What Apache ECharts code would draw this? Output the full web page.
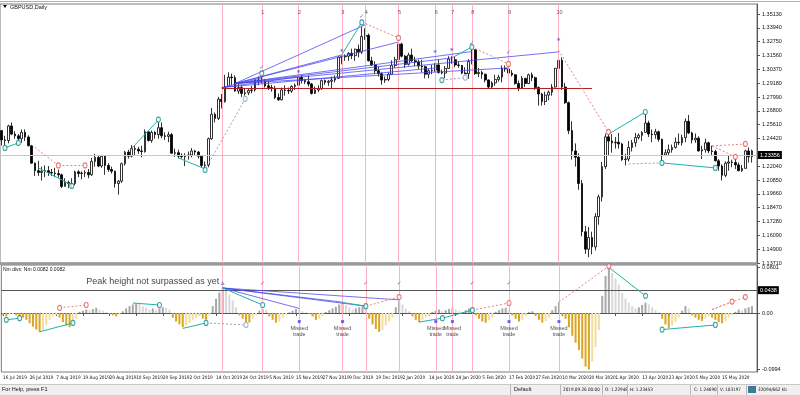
<!DOCTYPE html>
<html><head><meta charset="utf-8">
<script src="https://cdn.jsdelivr.net/npm/echarts@6/dist/echarts.min.js"></script>
<style>html,body{margin:0;padding:0;background:#fff;overflow:hidden}#c{width:800px;height:395px}</style>
</head><body><div id="c"></div>
<script>
// ---------- DATA ----------
const monthDays = [
 ['Jul 2019',[16,17,18,19,22,23,24,25,26,29,30,31]],
 ['Aug 2019',[1,2,5,6,7,8,9,12,13,14,15,16,19,20,21,22,23,26,27,28,29,30]],
 ['Sep 2019',[2,3,4,5,6,9,10,11,12,13,16,17,18,19,20,23,24,25,26,27,30]],
 ['Oct 2019',[1,2,3,4,7,8,9,10,11,14,15,16,17,18,21,22,23,24,25,28,29,30,31]],
 ['Nov 2019',[1,4,5,6,7,8,11,12,13,14,15,18,19,20,21,22,25,26,27,28,29]],
 ['Dec 2019',[2,3,4,5,6,9,10,11,12,13,16,17,18,19,20,23,24,26,27,30,31]],
 ['Jan 2020',[2,3,6,7,8,9,10,13,14,15,16,17,20,21,22,23,24,27,28,29,30,31]],
 ['Feb 2020',[3,4,5,6,7,10,11,12,13,14,17,18,19,20,21,24,25,26,27,28]],
 ['Mar 2020',[2,3,4,5,6,9,10,11,12,13,16,17,18,19,20,23,24,25,26,27,30,31]],
 ['Apr 2020',[1,2,3,6,7,8,9,10,13,14,15,16,17,20,21,22,23,24,27,28,29,30]],
 ['May 2020',[1,4,5,6,7,8,11,12,13,14,15,18,19,20,21,22,25,26,27,28]]
];
const dateTickLabels = ['16 Jul 2019','26 Jul 2019','7 Aug 2019','19 Aug 2019','29 Aug 2019','10 Sep 2019','20 Sep 2019','2 Oct 2019','14 Oct 2019','24 Oct 2019','5 Nov 2019','15 Nov 2019','27 Nov 2019','9 Dec 2019','19 Dec 2019','2 Jan 2020','14 Jan 2020','24 Jan 2020','5 Feb 2020','17 Feb 2020','27 Feb 2020','10 Mar 2020','20 Mar 2020','1 Apr 2020','13 Apr 2020','23 Apr 2020','5 May 2020','15 May 2020','27 May 2020'];
const priceTicks = [1.35130,1.33940,1.32750,1.31560,1.30370,1.29180,1.27990,1.26800,1.25610,1.24420,1.22040,1.20850,1.19660,1.18470,1.17280,1.16090,1.14900,1.13710];
const oscTicks = [0.0801, 0, -0.0994];
const currentPrice = 1.23356;
const peakLevel = 0.0438;
const supportLevel = 1.2875;

const opens = [1.2510,1.2430,1.2425,1.2550,1.2480,1.2465,1.2440,1.2495,1.2455,1.2380,1.2230,1.2165,1.2150,1.2160,1.2165,1.2150,1.2145,1.2140,1.2130,1.2030,1.2065,1.2055,1.2055,1.2155,1.2140,1.2145,1.2150,1.2130,1.2245,1.2280,1.2205,1.2290,1.2210,1.2175,1.2160,1.2055,1.2075,1.2225,1.2325,1.2290,1.2355,1.2350,1.2335,1.2330,1.2500,1.2425,1.2495,1.2475,1.2535,1.2465,1.2460,1.2475,1.2315,1.2320,1.2290,1.2285,1.2295,1.2300,1.2335,1.2325,1.2290,1.2210,1.2215,1.2440,1.2650,1.2615,1.2780,1.2760,1.2890,1.2970,1.2965,1.2850,1.2880,1.2830,1.2835,1.2855,1.2860,1.2945,1.2940,1.2935,1.2895,1.2880,1.2875,1.2795,1.2775,1.2860,1.2855,1.2850,1.2890,1.2900,1.2970,1.2940,1.2930,1.2910,1.2830,1.2860,1.2870,1.2940,1.2925,1.2935,1.2945,1.2960,1.3140,1.3145,1.3150,1.3175,1.3155,1.3210,1.3185,1.3320,1.3330,1.3110,1.3075,1.3025,1.3000,1.2945,1.2950,1.2995,1.3070,1.3120,1.3255,1.3150,1.3080,1.3160,1.3110,1.3100,1.3065,1.3060,1.2995,1.3025,1.3030,1.3075,1.3010,1.3005,1.3045,1.3125,1.3120,1.3075,1.3070,1.3005,1.3000,1.3105,1.3205,1.3000,1.3010,1.2995,1.2945,1.2885,1.2920,1.2950,1.2970,1.3045,1.3040,1.3005,1.2990,1.2915,1.2875,1.2960,1.2915,1.2990,1.2965,1.2880,1.2825,1.2760,1.2815,1.2840,1.2885,1.3045,1.3115,1.2885,1.2750,1.2510,1.2335,1.2280,1.2055,1.1640,1.1490,1.1590,1.1510,1.1770,1.1940,1.2200,1.2456,1.2420,1.2405,1.2410,1.2395,1.2260,1.2265,1.2365,1.2405,1.2450,1.2470,1.2495,1.2575,1.2480,1.2475,1.2500,1.2435,1.2300,1.2320,1.2345,1.2365,1.2410,1.2405,1.2450,1.2590,1.2490,1.2430,1.2445,1.2335,1.2345,1.2405,1.2335,1.2330,1.2250,1.2205,1.2125,1.2230,1.2240,1.2235,1.2215,1.2165,1.2185,1.2335,1.2285];
const highs = [1.2515,1.2465,1.2560,1.2580,1.2505,1.2480,1.2520,1.2520,1.2470,1.2385,1.2235,1.2250,1.2200,1.2210,1.2205,1.2180,1.2190,1.2175,1.2140,1.2100,1.2080,1.2100,1.2165,1.2170,1.2160,1.2170,1.2180,1.2275,1.2310,1.2295,1.2300,1.2300,1.2230,1.2200,1.2165,1.2085,1.2235,1.2335,1.2345,1.2385,1.2385,1.2370,1.2380,1.2520,1.2500,1.2510,1.2505,1.2580,1.2580,1.2495,1.2500,1.2490,1.2355,1.2345,1.2315,1.2315,1.2330,1.2360,1.2345,1.2335,1.2295,1.2245,1.2450,1.2705,1.2665,1.2800,1.2825,1.2990,1.3012,1.3000,1.2985,1.2925,1.2900,1.2870,1.2875,1.2895,1.2950,1.2975,1.2975,1.2955,1.2940,1.2905,1.2895,1.2830,1.2880,1.2900,1.2880,1.2900,1.2915,1.2985,1.2985,1.2955,1.2985,1.2920,1.2890,1.2900,1.2950,1.2950,1.2945,1.2975,1.2985,1.3150,1.3155,1.3165,1.3185,1.3215,1.3215,1.3250,1.3400,1.3390,1.3345,1.3145,1.3105,1.3060,1.3010,1.2975,1.3010,1.3115,1.3145,1.3285,1.3265,1.3160,1.3180,1.3215,1.3145,1.3120,1.3120,1.3070,1.3040,1.3075,1.3090,1.3120,1.3035,1.3065,1.3150,1.3150,1.3145,1.3105,1.3075,1.3055,1.3125,1.3210,1.3210,1.3050,1.3025,1.3000,1.2950,1.2935,1.2990,1.2990,1.3070,1.3070,1.3045,1.3030,1.2995,1.2940,1.2980,1.2960,1.3000,1.3010,1.2975,1.2890,1.2835,1.2845,1.2855,1.2910,1.3050,1.3200,1.3140,1.2920,1.2760,1.2590,1.2400,1.2315,1.2085,1.1690,1.1680,1.1640,1.1800,1.1960,1.2240,1.2485,1.2480,1.2480,1.2455,1.2490,1.2405,1.2310,1.2420,1.2430,1.2490,1.2485,1.2505,1.2650,1.2595,1.2520,1.2525,1.2510,1.2440,1.2350,1.2390,1.2390,1.2450,1.2485,1.2475,1.2615,1.2645,1.2500,1.2485,1.2460,1.2380,1.2440,1.2415,1.2380,1.2345,1.2265,1.2220,1.2245,1.2295,1.2260,1.2275,1.2235,1.2215,1.2345,1.2365,1.2346];
const lows = [1.2382,1.2383,1.2400,1.2470,1.2440,1.2420,1.2405,1.2420,1.2375,1.2225,1.2120,1.2120,1.2080,1.2110,1.2120,1.2120,1.2110,1.2105,1.2015,1.2030,1.2015,1.2020,1.2040,1.2110,1.2090,1.2110,1.2100,1.2120,1.2200,1.2195,1.2190,1.2130,1.2155,1.2140,1.2020,1.1958,1.2060,1.2210,1.2270,1.2280,1.2300,1.2310,1.2280,1.2320,1.2415,1.2405,1.2440,1.2440,1.2445,1.2430,1.2410,1.2315,1.2285,1.2270,1.2270,1.2205,1.2260,1.2280,1.2300,1.2270,1.2195,1.2190,1.2195,1.2430,1.2580,1.2600,1.2700,1.2750,1.2885,1.2900,1.2845,1.2825,1.2800,1.2810,1.2815,1.2830,1.2845,1.2900,1.2915,1.2880,1.2860,1.2845,1.2780,1.2765,1.2770,1.2810,1.2825,1.2835,1.2860,1.2880,1.2915,1.2910,1.2890,1.2820,1.2825,1.2840,1.2860,1.2905,1.2895,1.2875,1.2925,1.2955,1.3080,1.3110,1.3110,1.3125,1.3110,1.3140,1.3170,1.3290,1.3105,1.3065,1.2995,1.2975,1.2905,1.2920,1.2935,1.2990,1.3050,1.3115,1.3140,1.3050,1.3070,1.3100,1.3065,1.3040,1.3010,1.2960,1.2960,1.2995,1.3015,1.3000,1.2995,1.2960,1.3040,1.3085,1.3055,1.3050,1.2995,1.2995,1.2955,1.3080,1.2990,1.2970,1.2955,1.2925,1.2870,1.2875,1.2895,1.2930,1.2925,1.3015,1.2990,1.2975,1.2905,1.2850,1.2870,1.2885,1.2910,1.2935,1.2860,1.2725,1.2725,1.2730,1.2770,1.2810,1.2880,1.2990,1.2860,1.2740,1.2480,1.2260,1.2200,1.2000,1.1600,1.1450,1.1420,1.1445,1.1480,1.1700,1.1900,1.2180,1.2300,1.2320,1.2355,1.2355,1.2250,1.2210,1.2245,1.2330,1.2370,1.2435,1.2420,1.2490,1.2455,1.2410,1.2440,1.2415,1.2245,1.2290,1.2300,1.2320,1.2355,1.2385,1.2380,1.2410,1.2480,1.2400,1.2405,1.2330,1.2265,1.2320,1.2315,1.2290,1.2245,1.2165,1.2080,1.2110,1.2165,1.2195,1.2180,1.2160,1.2155,1.2185,1.2235,1.2235];
const closes = [1.2430,1.2425,1.2550,1.2480,1.2465,1.2440,1.2495,1.2455,1.2380,1.2230,1.2165,1.2150,1.2160,1.2165,1.2150,1.2145,1.2140,1.2130,1.2030,1.2065,1.2055,1.2055,1.2155,1.2140,1.2145,1.2150,1.2130,1.2245,1.2280,1.2205,1.2290,1.2210,1.2175,1.2160,1.2055,1.2075,1.2225,1.2325,1.2290,1.2355,1.2350,1.2335,1.2330,1.2500,1.2425,1.2495,1.2475,1.2535,1.2465,1.2460,1.2475,1.2315,1.2320,1.2290,1.2285,1.2295,1.2300,1.2335,1.2325,1.2290,1.2210,1.2215,1.2440,1.2650,1.2615,1.2780,1.2760,1.2890,1.2970,1.2965,1.2850,1.2880,1.2830,1.2835,1.2855,1.2860,1.2945,1.2940,1.2935,1.2895,1.2880,1.2875,1.2795,1.2775,1.2860,1.2855,1.2850,1.2890,1.2900,1.2970,1.2940,1.2930,1.2910,1.2830,1.2860,1.2870,1.2940,1.2925,1.2935,1.2945,1.2960,1.3140,1.3145,1.3150,1.3175,1.3155,1.3210,1.3185,1.3320,1.3330,1.3110,1.3075,1.3025,1.3000,1.2945,1.2950,1.2995,1.3070,1.3120,1.3255,1.3150,1.3080,1.3160,1.3110,1.3100,1.3065,1.3060,1.2995,1.3025,1.3030,1.3075,1.3010,1.3005,1.3045,1.3125,1.3120,1.3075,1.3070,1.3005,1.3000,1.3105,1.3205,1.3000,1.3010,1.2995,1.2945,1.2885,1.2920,1.2950,1.2970,1.3045,1.3040,1.3005,1.2990,1.2915,1.2875,1.2960,1.2915,1.2990,1.2965,1.2880,1.2825,1.2760,1.2815,1.2840,1.2885,1.3045,1.3115,1.2885,1.2750,1.2510,1.2335,1.2280,1.2055,1.1640,1.1490,1.1590,1.1510,1.1770,1.1940,1.2200,1.2456,1.2420,1.2405,1.2410,1.2395,1.2260,1.2265,1.2365,1.2405,1.2450,1.2470,1.2495,1.2575,1.2480,1.2475,1.2500,1.2435,1.2300,1.2320,1.2345,1.2365,1.2410,1.2405,1.2450,1.2590,1.2490,1.2430,1.2445,1.2335,1.2345,1.2405,1.2335,1.2330,1.2250,1.2205,1.2125,1.2230,1.2240,1.2235,1.2215,1.2165,1.2185,1.2335,1.2285,1.23356];

const oscValues = [-0.004,-0.006,-0.003,-0.002,-0.004,-0.005,-0.008,-0.012,-0.018,-0.024,-0.029,-0.033,
 -0.030,-0.022,-0.012,-0.006,-0.003,-0.008,-0.016,-0.022,-0.025,-0.020,-0.010,
 0.002,0.004,0.006,0.005,0.007,0.009,0.006,0.004,0.002,-0.002,-0.004,-0.006,-0.003,0.003,
 0.008,0.012,0.015,0.017,0.016,0.012,0.010,0.006,0.008,0.005,0.008,0.010,0.009,0.006,
 -0.008,-0.015,-0.020,-0.025,-0.022,-0.018,-0.012,-0.008,-0.006,-0.010,-0.012,-0.004,
 0.012,0.025,0.036,0.0438,0.040,0.032,0.022,0.010,-0.004,-0.010,-0.016,-0.017,-0.010,-0.004,
 0.004,0.007,0.005,-0.006,-0.012,-0.017,-0.015,-0.008,-0.003,0.001,0.004,0.007,0.006,0.003,0.001,-0.002,
 -0.006,-0.012,-0.010,-0.006,0.002,0.005,0.008,0.011,0.015,0.018,0.014,0.010,0.006,0.008,0.010,0.012,0.008,
 -0.010,-0.020,-0.028,-0.033,-0.030,-0.022,-0.015,-0.008,0.010,0.021,0.015,0.008,0.003,
 -0.006,-0.012,-0.016,-0.012,-0.008,-0.004,0.002,0.004,0.006,0.003,0.005,0.007,0.008,0.006,0.004,0.002,0.005,0.008,0.010,
 -0.004,-0.010,-0.015,-0.017,-0.013,-0.008,0.002,0.005,0.008,0.009,0.006,
 -0.004,-0.010,-0.015,-0.012,-0.006,0.002,0.003,-0.005,-0.012,-0.017,-0.014,-0.008,0.005,0.012,0.019,
 -0.004,-0.010,-0.025,-0.040,-0.052,-0.065,-0.080,-0.094,-0.099,-0.085,-0.060,-0.030,
 0.030,0.065,0.080,0.070,0.060,0.050,0.035,0.025,0.018,0.012,0.008,0.010,0.014,0.018,0.015,0.010,0.005,0.001,
 -0.010,-0.020,-0.026,-0.022,-0.015,-0.008,0.004,0.012,0.008,-0.004,-0.008,-0.012,-0.014,-0.010,-0.006,-0.008,
 -0.012,-0.016,-0.018,-0.014,-0.008,-0.004,0.002,0.006,0.004,0.008,0.010,0.012];

// vertical signal lines (bar index) and their numbers
const signalBars = [66,78,89,102,109,119,130,135,141,152,167];
const signalNames = ['','1','2','3','4','5','6','7','8','9','10'];
const missedBars = [89,102,130,135,152,167];
// annotations in price units: [barIndex, price]
const tealMarksMain = [[1,1.2361],[5,1.2404],[21,1.2034],[47,1.2605],[61,1.2172],[78,1.3002],[108,1.3440],[132,1.2945],[141,1.3229],[193,1.2670],[198,1.2232],[214,1.2189]];
const redMarksMain = [[17,1.2210],[25,1.2210],[119,1.3307],[152,1.3083],[182,1.2498],[220,1.2284],[223,1.2395]];
const paleMarksMain = [[73,1.2782],[139,1.2965]];
const starsMain = [[89,1.3006],[102,1.3186],[130,1.3178],[135,1.3195],[167,1.3281]];
const checksMain = [[78,1.3049],[108,1.3496],[141,1.3264],[152,1.3186]];
const blueLinesMain = [[70,1.2915,109,1.3420],[70,1.2915,119,1.3272],[70,1.2915,167,1.3187],[70,1.2915,102,1.3161],[70,1.2915,135,1.3135],[70,1.2915,141,1.3190],[66,1.2880,89,1.2972],[66,1.2880,78,1.2963],[70,1.2915,152,1.3049],[66,1.2880,130,1.3049]];
const tealLinesMain = [[1,1.2361,5,1.2404],[11,1.2189,21,1.2043],[39,1.2358,47,1.2600],[53,1.2275,61,1.2180],[102,1.3161,108,1.3444],[135,1.3135,141,1.3229],[182,1.2480,193,1.2670],[198,1.2232,214,1.2189]];
const redDotLinesMain = [[9,1.2386,17,1.2210],[17,1.2210,25,1.2210],[108,1.3444,119,1.3307],[141,1.3229,152,1.3083],[167,1.3200,182,1.2498],[213,1.2378,223,1.2395],[213,1.2378,220,1.2284]];
const greyDotLinesMain = [[61,1.2172,73,1.2782],[132,1.2945,139,1.2965],[188,1.2223,198,1.2232]];
// annotations in oscillator units
const tealMarksOsc = [[1,-0.012],[5,-0.009],[21,-0.0175],[47,0.014],[61,-0.0175],[78,0.014],[109,0.012],[132,-0.009],[141,0.005],[193,0.030],[198,-0.029],[214,-0.021]];
const redMarksOsc = [[17,0.009],[25,0.014],[119,0.028],[152,0.0175],[182,0.082],[219,0.020],[223,0.028]];
const paleMarksOsc = [[73,-0.021]];
const checksOsc = [[78,0.051],[109,0.051],[119,0.051],[141,0.051],[152,0.051]];
const blueLinesOsc = [[66,0.0438,89,0.008],[66,0.0438,109,0.012],[66,0.0438,119,0.023],[66,0.0438,102,0.019]];
const tealLinesOsc = [[1,-0.012,5,-0.009],[11,-0.033,21,-0.0175],[39,0.0175,47,0.014],[54,-0.027,61,-0.0175],[66,0.0438,78,0.014],[102,0.0185,109,0.012],[125,-0.016,132,-0.009],[132,-0.009,141,0.005],[182,0.080,193,0.030],[198,-0.029,214,-0.021]];
const redDotLinesOsc = [[17,0.009,25,0.014],[109,0.012,119,0.028],[141,0.005,152,0.0175],[167,0.019,182,0.082],[213,0.006,223,0.028],[213,0.006,219,0.020]];
const greyDotLinesOsc = [[61,-0.0175,73,-0.021]];

// ---------- BUILD ----------
const categories = [];
monthDays.forEach(([m, ds]) => ds.forEach(d => categories.push(d + ' ' + m)));
categories.push('');
const candleData = opens.map((o, i) => [o, closes[i], lows[i], highs[i]]);
const oscColors = oscValues.map((v, i) => {
  const p = i > 0 ? oscValues[i - 1] : 0;
  if (v >= 0) return v >= p ? '#A8A8A8' : '#D8D8D8';
  return v <= p ? '#DAA520' : '#F0DDA0';
});
const FONT = 'Liberation Sans';
const NARROW = 'Liberation Sans Narrow, DejaVu Sans Condensed, Liberation Sans';
const TEAL = '#20B2AA', TEALM = '#0E8F8F', RED = '#E05A5A', BLUE = '#4646F0', PINK = '#FFB3C1';

function segs(list, color, type, width, opacity) {
  return list.map(s => [{coord: [s[0], s[1]]}, {coord: [s[2], s[3]], lineStyle: {color, type, width, opacity}}]);
}
function lineSeries(list, color, type, width, xi, yi, opacity) {
  return {
    type: 'scatter', xAxisIndex: xi, yAxisIndex: yi, data: [], silent: true, z: 4,
    markLine: {silent: true, symbol: 'none', animation: false, label: {show: false},
      lineStyle: {color, type, width, opacity: opacity || 1}, data: segs(list, color, type, width, opacity || 1)}
  };
}
function markSeries(list, color, fill, xi, yi) {
  return {type: 'scatter', xAxisIndex: xi, yAxisIndex: yi, z: 6, silent: true, symbol: 'circle', symbolSize: [4, 5],
    itemStyle: {color: fill, borderColor: color, borderWidth: 1.1}, data: list};
}
function textSeries(list, text, color, size, xi, yi, bold) {
  return {type: 'scatter', xAxisIndex: xi, yAxisIndex: yi, z: 7, silent: true, symbolSize: 0, data: list,
    label: {show: true, position: 'inside', formatter: text, color, fontSize: size, fontFamily: 'DejaVu Sans', fontWeight: bold ? 'bold' : 'normal'}};
}

const chart = echarts.init(document.getElementById('c'), null, {renderer: 'canvas'});
const vLines = signalBars.map(b => ({xAxis: b}));

const option = {
  animation: false,
  backgroundColor: '#ffffff',
  grid: [
    {left: 0, right: 43, top: 4, height: 259, show: true, borderColor: '#7a7a7a', borderWidth: 1},
    {left: 0, right: 43, top: 265, height: 107, show: true, borderColor: '#7a7a7a', borderWidth: 1}
  ],
  xAxis: [
    {type: 'category', gridIndex: 0, data: categories, boundaryGap: true, axisLine: {show: false}, axisTick: {show: false}, axisLabel: {show: false}, splitLine: {show: false}},
    {type: 'category', gridIndex: 1, data: categories, boundaryGap: true,
      axisLine: {show: true, lineStyle: {color: '#555', width: 1}},
      axisTick: {show: true, alignWithLabel: true, length: 3, lineStyle: {color: '#555'}, interval: (i, v) => dateTickLabels.includes(v)},
      axisLabel: {show: true, interval: (i, v) => dateTickLabels.includes(v), showMinLabel: true, hideOverlap: false, align: 'left', margin: 3, fontSize: 4.7, fontFamily: NARROW, color: '#111'},
      splitLine: {show: false}}
  ],
  yAxis: [
    {type: 'value', gridIndex: 0, position: 'right', min: 1.1371, max: 1.3599,
      axisLine: {show: true, lineStyle: {color: '#555'}},
      axisTick: {show: true, length: 3, customValues: priceTicks, lineStyle: {color: '#555'}},
      axisLabel: {show: true, customValues: priceTicks, formatter: v => v.toFixed(5), fontSize: 5.5, fontFamily: FONT, color: '#111', margin: 5},
      splitLine: {show: false}},
    {type: 'value', gridIndex: 1, position: 'right', min: -0.1034, max: 0.0841,
      axisLine: {show: true, lineStyle: {color: '#555'}},
      axisTick: {show: true, length: 3, customValues: oscTicks, lineStyle: {color: '#555'}},
      axisLabel: {show: true, customValues: oscTicks, formatter: v => v === 0 ? '0.00' : v.toFixed(4), fontSize: 5.5, fontFamily: FONT, color: '#111', margin: 5},
      splitLine: {show: false}}
  ],
  series: [
    {type: 'candlestick', xAxisIndex: 0, yAxisIndex: 0, data: candleData, barWidth: 2.2, z: 3,
      itemStyle: {color: '#ffffff', color0: '#000000', borderColor: '#000000', borderColor0: '#000000', borderWidth: 0.8},
      markLine: {silent: true, symbol: 'none', animation: false,
        data: [
          ...vLines.map(v => ({...v, lineStyle: {color: PINK, width: 1, type: 'solid'}, label: {show: false}})),
          {yAxis: currentPrice, lineStyle: {color: '#C8C8C8', width: 1, type: 'solid'},
            label: {show: true, position: 'end', formatter: '1.23356', backgroundColor: '#000', color: '#fff', fontSize: 5.5, fontFamily: FONT, padding: [1, 2], distance: 1}},
          [{coord: [66, supportLevel]}, {coord: [177, supportLevel], lineStyle: {color: '#B22222', width: 1.2, type: 'solid'}}]
        ]}},
    {type: 'bar', xAxisIndex: 1, yAxisIndex: 1, data: oscValues.map((v, i) => ({value: v, itemStyle: {color: oscColors[i]}})), barWidth: 2, z: 3,
      markLine: {silent: true, symbol: 'none', animation: false,
        data: [
          ...vLines.map(v => ({...v, lineStyle: {color: PINK, width: 1, type: 'solid'}, label: {show: false}})),
          {yAxis: peakLevel, lineStyle: {color: '#555555', width: 1, type: 'solid'},
            label: {show: true, position: 'end', formatter: '0.0438', backgroundColor: '#000', color: '#fff', fontSize: 5.5, fontFamily: FONT, padding: [1, 2], distance: 1}}
        ]}},
    // main annotations
    lineSeries(blueLinesMain, BLUE, 'solid', 0.9, 0, 0, 0.85),
    lineSeries(tealLinesMain, TEAL, 'solid', 1, 0, 0),
    lineSeries(redDotLinesMain, '#F08080', [2, 2], 1, 0, 0),
    lineSeries(greyDotLinesMain, '#A0A0B8', [2, 2], 1, 0, 0),
    markSeries(tealMarksMain, TEALM, '#ffffff', 0, 0),
    markSeries(redMarksMain, RED, '#ffffff', 0, 0),
    markSeries(paleMarksMain, '#8FA8C8', '#ffffff', 0, 0),
    textSeries(starsMain, '*', BLUE, 7, 0, 0, true),
    textSeries(checksMain, '\u2713', BLUE, 6, 0, 0, false),
    {type: 'scatter', xAxisIndex: 0, yAxisIndex: 0, symbolSize: 0, silent: true, z: 7,
      data: signalBars.map((b, k) => ({value: [b, 1.3530], name: signalNames[k]})),
      label: {show: true, position: 'inside', formatter: p => p.name, fontSize: 5.5, fontFamily: FONT, color: '#333', offset: [1, 0]}},
    // oscillator annotations
    lineSeries(blueLinesOsc, BLUE, 'solid', 0.9, 1, 1, 0.85),
    lineSeries(tealLinesOsc, TEAL, 'solid', 1, 1, 1),
    lineSeries(redDotLinesOsc, '#F08080', [2, 2], 1, 1, 1),
    lineSeries(greyDotLinesOsc, '#A0A0B8', [2, 2], 1, 1, 1),
    markSeries(tealMarksOsc, TEALM, '#ffffff', 1, 1),
    markSeries(redMarksOsc, RED, '#ffffff', 1, 1),
    markSeries(paleMarksOsc, '#8FA8C8', '#ffffff', 1, 1),
    textSeries(checksOsc, '\u2713', BLUE, 6, 1, 1, false),
    {type: 'scatter', xAxisIndex: 1, yAxisIndex: 1, symbol: 'triangle', symbolSize: 4, silent: true, z: 7,
      itemStyle: {color: '#8080F0'}, data: [[66, 0.0525]]},
    {type: 'scatter', xAxisIndex: 1, yAxisIndex: 1, symbol: 'rect', symbolSize: 3, silent: true, z: 7,
      itemStyle: {color: BLUE}, data: missedBars.map(b => [b, -0.015]),
      label: {show: true, position: 'bottom', distance: 2, formatter: 'Missed\ntrade', fontSize: 5.5, lineHeight: 6.5, fontFamily: FONT, color: '#222'}},
    {type: 'scatter', xAxisIndex: 1, yAxisIndex: 1, symbolSize: 0, silent: true, z: 7,
      data: [[45, 0.0545]],
      label: {show: true, position: 'inside', formatter: 'Peak height not surpassed as yet', fontSize: 9, fontFamily: FONT, color: '#111'}}
  ],
  graphic: [
    {type: 'rect', shape: {x: 0, y: 262.5, width: 757, height: 2.5}, style: {fill: '#9A9A9A'}, silent: true},
    {type: 'rect', shape: {x: 0, y: 384, width: 800, height: 11}, style: {fill: '#F0F0F0'}, silent: true},
    {type: 'line', shape: {x1: 0, y1: 384.5, x2: 800, y2: 384.5}, style: {stroke: '#C8C8C8', lineWidth: 1}, silent: true},
    {type: 'text', x: 2, y: 386.5, style: {text: 'For Help, press F1', fontSize: 5.5, fontFamily: FONT, fill: '#111'}},
    {type: 'text', x: 514, y: 386.5, style: {text: 'Default', fontSize: 5.5, fontFamily: FONT, fill: '#111'}},
    {type: 'text', x: 563, y: 387, style: {text: '2019.09.26 00:00', fontSize: 4.6, fontFamily: NARROW, fill: '#111'}},
    {type: 'text', x: 605, y: 387, style: {text: 'O: 1.22948', fontSize: 4.6, fontFamily: NARROW, fill: '#111'}},
    {type: 'text', x: 630, y: 387, style: {text: 'H: 1.23453', fontSize: 4.6, fontFamily: NARROW, fill: '#111'}},
    {type: 'text', x: 694, y: 387, style: {text: 'C: 1.24690', fontSize: 4.6, fontFamily: NARROW, fill: '#111'}},
    {type: 'text', x: 720, y: 387, style: {text: 'V: 103197', fontSize: 4.6, fontFamily: NARROW, fill: '#111'}},
    {type: 'rect', shape: {x: 748, y: 386, width: 8, height: 7}, style: {fill: '#3C7A9C'}, silent: true},
    {type: 'text', x: 758, y: 387, style: {text: '32094/662 kb', fontSize: 4.6, fontFamily: NARROW, fill: '#111'}},
    ...[510, 560, 602, 627, 690, 717, 746].map(x => ({type: 'line', shape: {x1: x + 0.5, y1: 385, x2: x + 0.5, y2: 395}, style: {stroke: '#B8B8B8', lineWidth: 1}, silent: true})),
    {type: 'polygon', shape: {points: [[3, 5], [7, 5], [5, 8]]}, style: {fill: '#000'}},
    {type: 'text', x: 10, y: 4, style: {text: 'GBPUSD,Daily', fontSize: 5.5, fontFamily: FONT, fill: '#111'}},
    {type: 'text', x: 3, y: 267, style: {text: 'Nm divs: Nm 0.0082 0.0082', fontSize: 5, fontFamily: FONT, fill: '#111'}},
    {type: 'line', shape: {x1: 0, y1: 1.5, x2: 800, y2: 1.5}, style: {stroke: '#B0B0B0', lineWidth: 1}, silent: true}
  ]
};
chart.setOption(option);
</script>
</body></html>
